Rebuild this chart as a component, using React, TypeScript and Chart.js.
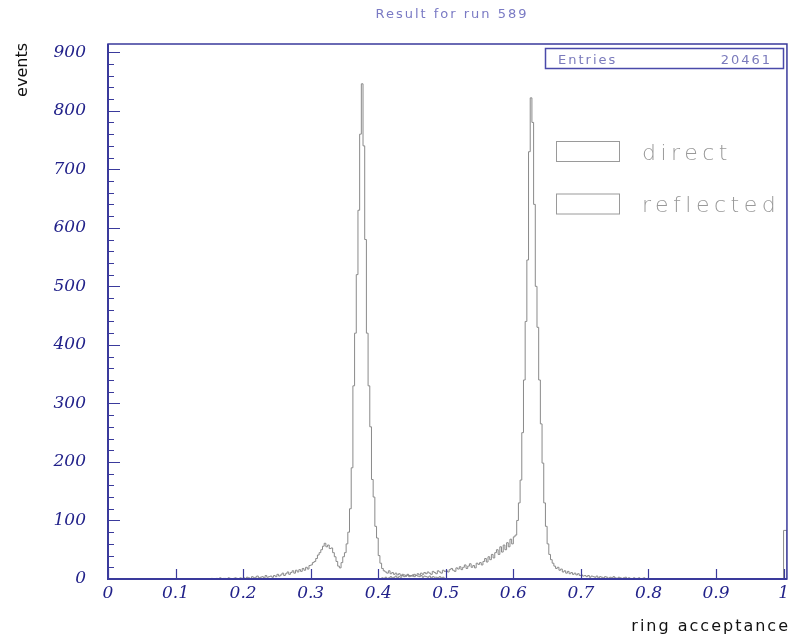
import { useEffect, useRef } from "react";
import { Chart, registerables } from "chart.js";

Chart.register(...registerables);

const TITLE = "Result for run 589";
const X_TITLE = "ring acceptance";
const Y_TITLE = "events";
const ENTRIES_LABEL = "Entries";
const ENTRIES = 20461;
const SERIES_NAMES = ["direct", "reflected"];

const BIN = 0.0025;
const directStart = 0.15;
const directCounts = [
  0, 1, 0, 0, 1, 0, 2, 0, 1, 1, 0, 2, 1, 0, 1, 2, 1, 0, 2, 1,
  2, 1, 3, 2, 1, 4, 2, 3, 5, 2, 3, 4, 2, 6, 3, 4, 5, 3, 6, 4,
  8, 5, 7, 10, 6, 9, 12, 8, 11, 14, 10, 15, 12, 16, 13, 18, 15, 20, 17, 23,
  24, 28, 30, 35, 41, 45, 50, 56, 61, 55, 58, 52, 53, 45, 38, 30, 22, 19, 28, 38,
  45, 60, 80, 120, 190, 330, 420, 520, 630, 760, 846, 740, 580, 420, 330, 260, 170, 140, 90, 70,
  40, 27, 18, 14, 12, 10, 14, 9, 11, 8, 10, 7, 9, 6, 8, 7, 5, 8, 6, 5,
  7, 4, 6, 5, 4, 6, 3, 5, 4, 3, 5, 2, 4, 3, 3, 2, 4, 2, 3, 1,
];
const reflectedStart = 0.4;
const reflectedCounts = [
  1, 0, 2, 1, 3, 1, 2, 4, 2, 3, 5, 2, 4, 3, 6, 4, 5, 7, 4, 6,
  5, 8, 6, 9, 7, 10, 8, 11, 9, 12, 10, 8, 13, 11, 9, 14, 12, 10, 15, 13,
  14, 12, 16, 18, 15, 13, 19, 17, 21, 16, 20, 24, 18, 22, 26, 20, 23, 19, 27, 25,
  28, 24, 30, 35, 29, 38, 33, 42, 36, 45, 50, 42, 55, 46, 58, 50, 62, 55, 68, 60,
  72, 75, 100, 130, 169, 250, 340, 440, 545, 730, 822, 780, 640, 500, 430, 340, 265, 198, 130, 90,
  60, 42, 33, 27, 22, 18, 20, 15, 17, 12, 14, 10, 13, 9, 11, 8, 10, 7, 9, 6,
  7, 5, 6, 4, 6, 3, 5, 4, 3, 5, 2, 4, 3, 2, 4, 3, 1, 3, 2, 4,
  2, 1, 3, 2, 1, 2, 3, 1, 2, 1, 0, 2, 1, 1, 2, 0, 1, 2, 0, 1,
];
const overflowEdge = 1.0;
const overflowCounts = [83];

const X_MIN = 0;
const X_MAX = 1.005;
const Y_MIN = 0;
const Y_MAX = 914;
const X_STEP = 0.1;
const Y_STEP = 100;
const Y_MINOR = 20;

const FRAME = "#3a3a9c";
const TICK_TEXT = "#22228a";
const HIST = "#8a8a8a";

function histPoints(start: number, counts: number[], extra?: { edge: number; counts: number[] }) {
  const pts: { x: number; y: number }[] = [{ x: X_MIN, y: 0 }];
  counts.forEach((c, i) => pts.push({ x: start + i * BIN, y: c }));
  pts.push({ x: start + counts.length * BIN, y: 0 });
  if (extra) {
    extra.counts.forEach((c, i) => pts.push({ x: extra.edge + i * 2 * BIN, y: c }));
    pts.push({ x: extra.edge + extra.counts.length * 2 * BIN, y: 0 });
  }
  return pts;
}

const decor = {
  id: "decor",
  afterDraw(chart: any) {
    const ctx = chart.ctx as CanvasRenderingContext2D;
    const { left, right, top, bottom } = chart.chartArea;
    const xs = chart.scales.x;
    const ys = chart.scales.y;
    ctx.save();
    // frame
    ctx.strokeStyle = FRAME;
    ctx.lineWidth = 1.5;
    ctx.strokeRect(left, top, right - left, bottom - top);
    ctx.lineWidth = 2;
    ctx.beginPath();
    ctx.moveTo(left, top);
    ctx.lineTo(left, bottom);
    ctx.lineTo(right, bottom);
    ctx.stroke();
    // y ticks
    ctx.lineWidth = 1.2;
    ctx.beginPath();
    for (let v = Y_MIN; v <= Y_MAX; v += Y_MINOR) {
      const py = Math.round(ys.getPixelForValue(v)) + 0.5;
      const len = v % Y_STEP === 0 ? 12 : 6;
      ctx.moveTo(left, py);
      ctx.lineTo(left + len, py);
    }
    ctx.stroke();
    // x ticks
    ctx.beginPath();
    for (let i = 0; i * X_STEP <= X_MAX; i++) {
      const px = Math.round(xs.getPixelForValue(i * X_STEP)) + 0.5;
      ctx.moveTo(px, bottom);
      ctx.lineTo(px, bottom - 10);
    }
    ctx.stroke();

    // title
    (ctx as any).letterSpacing = "2px";
    ctx.font = '13px "DejaVu Sans"';
    ctx.fillStyle = "#7a7ac4";
    ctx.textAlign = "center";
    ctx.textBaseline = "middle";
    ctx.fillText(TITLE, 452, 15);

    // entries box
    ctx.strokeStyle = "#4a4aaa";
    ctx.lineWidth = 1.5;
    ctx.strokeRect(545.5, 48.5, 238, 20);
    ctx.fillStyle = "#7a7abc";
    ctx.textBaseline = "alphabetic";
    ctx.textAlign = "left";
    ctx.fillText(ENTRIES_LABEL, 558, 64);
    ctx.textAlign = "right";
    ctx.fillText(String(ENTRIES), 772, 64);

    // legend
    chart.data.datasets.forEach((ds: any, i: number) => {
      const by = 141.5 + i * 52.5;
      ctx.strokeStyle = "#9a9a9a";
      ctx.lineWidth = 1;
      ctx.strokeRect(556.5, by, 63, 20);
      (ctx as any).letterSpacing = "4.5px";
      ctx.font = '200 22px "DejaVu Sans"';
      ctx.fillStyle = "#999999";
      ctx.textAlign = "left";
      ctx.textBaseline = "alphabetic";
      ctx.fillText(ds.label, 642, 160 + i * 52);
    });

    // axis titles
    (ctx as any).letterSpacing = "2px";
    ctx.font = '16px "DejaVu Sans"';
    ctx.fillStyle = "#111";
    ctx.textAlign = "right";
    ctx.textBaseline = "alphabetic";
    ctx.fillText(X_TITLE, 790, 631);

    (ctx as any).letterSpacing = "0px";
    ctx.translate(23, 43);
    ctx.rotate(-Math.PI / 2);
    ctx.textAlign = "right";
    ctx.textBaseline = "middle";
    ctx.fillText(Y_TITLE, 0, 0);
    ctx.restore();
  },
};

export default function App() {
  const ref = useRef<HTMLCanvasElement | null>(null);
  useEffect(() => {
    if (!ref.current) return;
    const chart = new Chart(ref.current, {
      type: "line",
      data: {
        datasets: [
          {
            label: SERIES_NAMES[0],
            data: histPoints(directStart, directCounts),
            borderColor: HIST,
            borderWidth: 1,
            pointRadius: 0,
            stepped: "before",
            fill: false,
          },
          {
            label: SERIES_NAMES[1],
            data: histPoints(reflectedStart, reflectedCounts, { edge: overflowEdge, counts: overflowCounts }),
            borderColor: HIST,
            borderWidth: 1,
            pointRadius: 0,
            stepped: "before",
            fill: false,
          },
        ],
      },
      options: {
        responsive: false,
        animation: false,
        events: [],
        layout: { padding: { top: 44, right: 5, left: 0, bottom: 0 } },
        plugins: { legend: { display: false }, tooltip: { enabled: false }, title: { display: false } },
        scales: {
          x: {
            type: "linear",
            min: X_MIN,
            max: X_MAX,
            grid: { display: false, drawTicks: false },
            border: { display: false },
            afterFit: (s: any) => {
              s.height = 58;
            },
            ticks: {
              stepSize: X_STEP,
              includeBounds: false,
              autoSkip: false,
              maxRotation: 0,
              padding: 4,
              color: TICK_TEXT,
              font: { family: "DejaVu Serif", style: "italic", size: 17 },
              callback: (v: any) => String(Math.round(Number(v) * 10) / 10),
            },
          },
          y: {
            type: "linear",
            min: Y_MIN,
            max: Y_MAX,
            grid: { display: false, drawTicks: false },
            border: { display: false },
            afterFit: (s: any) => {
              s.width = 108;
            },
            ticks: {
              stepSize: Y_STEP,
              includeBounds: false,
              padding: 22,
              color: TICK_TEXT,
              font: { family: "DejaVu Serif", style: "italic", size: 17 },
            },
          },
        },
      },
      plugins: [decor],
    });
    return () => chart.destroy();
  }, []);
  return (
    <div style={{ position: "absolute", left: 0, top: 0, width: 793, height: 637, background: "#fff" }}>
      <canvas ref={ref} width={793} height={637} style={{ display: "block" }} />
    </div>
  );
}
